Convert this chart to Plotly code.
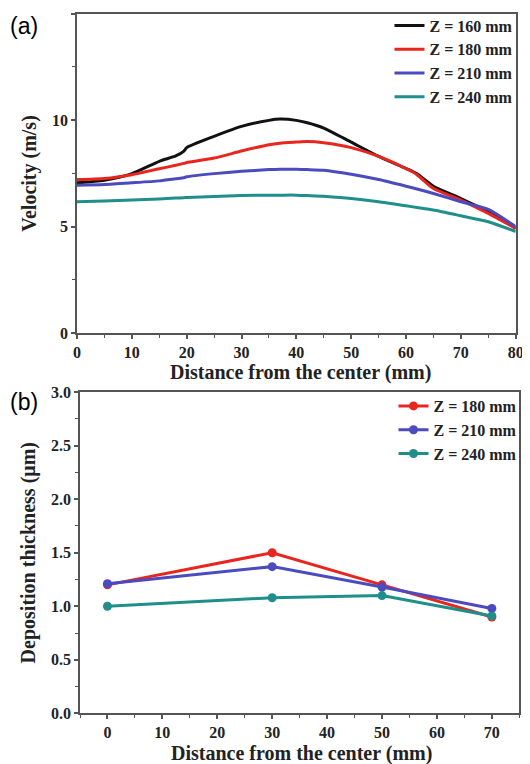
import plotly.graph_objects as go

# panel (a): gas velocity profiles
dist_a = [0, 5, 10, 15, 18, 19.5, 20, 25, 30, 35, 37, 40, 42, 45, 50, 55, 60, 62, 65, 70, 75, 80]
vel_160 = [7.06, 7.18, 7.49, 8.07, 8.32, 8.55, 8.71, 9.24, 9.71, 9.99, 10.05, 9.99, 9.88, 9.63, 8.97, 8.30, 7.73, 7.48, 6.90, 6.32, 5.70, 4.92]
vel_180 = [7.21, 7.26, 7.44, 7.72, 7.88, 7.97, 8.01, 8.22, 8.55, 8.85, 8.92, 8.97, 9.00, 8.94, 8.71, 8.30, 7.73, 7.44, 6.79, 6.25, 5.62, 4.92]
vel_210 = [6.95, 6.98, 7.06, 7.15, 7.25, 7.30, 7.34, 7.49, 7.60, 7.68, 7.70, 7.69, 7.68, 7.65, 7.46, 7.21, 6.90, 6.77, 6.56, 6.17, 5.81, 5.00]
vel_240 = [6.17, 6.20, 6.25, 6.30, 6.34, 6.36, 6.37, 6.42, 6.46, 6.48, 6.48, 6.48, 6.46, 6.43, 6.32, 6.17, 5.98, 5.90, 5.78, 5.51, 5.23, 4.77]

# panel (b): deposition thickness
dist_b = [0, 30, 50, 70]
thk_180 = [1.20, 1.50, 1.20, 0.90]
thk_210 = [1.21, 1.37, 1.18, 0.98]
thk_240 = [1.00, 1.08, 1.10, 0.91]

BLACK = "#111111"
RED = "#e8261e"
BLUE = "#4b4bbf"
TEAL = "#1e8f8a"
serif = "Liberation Serif"

# page has an 8px body margin, so the figure is 8px smaller than the window
W, H = 522, 756

fig = go.Figure()
for name, ys, col in [("Z = 160 mm", vel_160, BLACK), ("Z = 180 mm", vel_180, RED),
                      ("Z = 210 mm", vel_210, BLUE), ("Z = 240 mm", vel_240, TEAL)]:
    fig.add_trace(go.Scatter(x=dist_a, y=ys, mode="lines", name="<b>" + name + "</b>",
                             line=dict(color=col, width=3, shape="spline", smoothing=0.6),
                             xaxis="x", yaxis="y", legend="legend"))

for name, ys, col in [("Z = 180 mm", thk_180, RED), ("Z = 210 mm", thk_210, BLUE), ("Z = 240 mm", thk_240, TEAL)]:
    fig.add_trace(go.Scatter(x=dist_b, y=ys, mode="lines+markers", name="<b>" + name + "</b>",
                             line=dict(color=col, width=3), marker=dict(size=9, color=col),
                             xaxis="x2", yaxis="y2", legend="legend2"))

minor_style = dict(ticks="outside", ticklen=3, tickwidth=1.2, tickcolor="#555555")
axis_common = dict(showline=True, linecolor="#555555", linewidth=1.5, mirror=True, ticks="outside", ticklen=4,
                   tickwidth=1.5, tickcolor="#555555", showgrid=False, zeroline=False, automargin=False,
                   tickfont=dict(family=serif, size=16, color="#222222"),
                   tickprefix="<b>", ticksuffix="</b>")

title_font = dict(family=serif, size=20, color="#222222")
legend_font = dict(family=serif, size=16, color="#222222")

fig.update_layout(
    width=W, height=H, margin=dict(l=0, r=0, t=0, b=0),
    paper_bgcolor="white", plot_bgcolor="white",
    font=dict(family=serif),
    xaxis=dict(axis_common, domain=[69 / W, 507.7 / W], range=[0, 80], dtick=10,
               minor=dict(minor_style, dtick=5), anchor="y"),
    yaxis=dict(axis_common, domain=[1 - 324 / H, 1 - 3.7 / H], range=[0, 15], dtick=5,
               minor=dict(minor_style, dtick=2.5), anchor="x",
               title=dict(text="<b>Velocity (m/s)</b>", font=title_font, standoff=10)),
    xaxis2=dict(axis_common, domain=[72 / W, 511.3 / W], range=[-5, 75], dtick=10, tick0=0,
                minor=dict(minor_style, dtick=5, tick0=-5), anchor="y2"),
    yaxis2=dict(axis_common, domain=[1 - 705.3 / H, 1 - 383 / H], range=[0, 3], dtick=0.5, tickformat=".1f",
                minor=dict(minor_style, dtick=0.25), anchor="x2",
                title=dict(text="<b>Deposition thickness (μm)</b>", font=title_font, standoff=10)),
    legend=dict(x=510.5 / W, y=1.002, xanchor="right", yanchor="top", bgcolor="rgba(0,0,0,0)",
                font=legend_font, tracegroupgap=0),
    legend2=dict(x=514.5 / W, y=1 - 380 / H, xanchor="right", yanchor="top", bgcolor="rgba(0,0,0,0)",
                 font=legend_font, tracegroupgap=0),
    annotations=[
        dict(text="<b>Distance from the center (mm)</b>", x=292 / W, y=1 - 363 / H, xref="paper", yref="paper",
             xanchor="center", yanchor="middle", showarrow=False, font=title_font),
        dict(text="<b>Distance from the center (mm)</b>", x=293 / W, y=1 - 745 / H, xref="paper", yref="paper",
             xanchor="center", yanchor="middle", showarrow=False, font=title_font),
        dict(text="(a)", x=0.0, y=1 - 16 / H, xref="paper", yref="paper", xanchor="left", yanchor="middle",
             showarrow=False, font=dict(family="Liberation Sans", size=23, color="black")),
        dict(text="(b)", x=0.0, y=1 - 393 / H, xref="paper", yref="paper", xanchor="left", yanchor="middle",
             showarrow=False, font=dict(family="Liberation Sans", size=23, color="black")),
    ],
)

fig.write_html("out.html")
